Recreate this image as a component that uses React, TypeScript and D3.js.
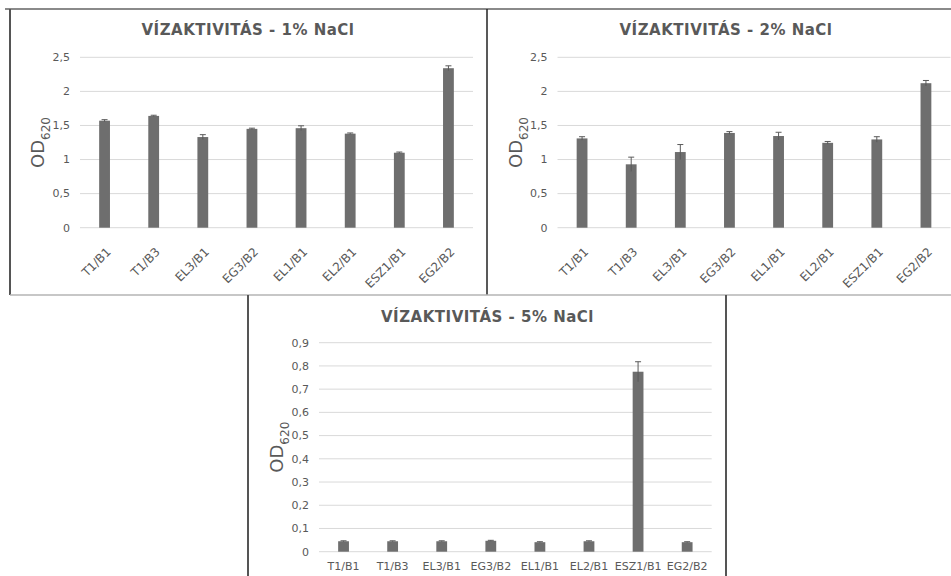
import * as d3 from 'd3';

// ─── Datos ───────────────────────────────────────────────────────────────────
const categories = ['T1/B1', 'T1/B3', 'EL3/B1', 'EG3/B2', 'EL1/B1', 'EL2/B1', 'ESZ1/B1', 'EG2/B2'];

const nacl1 = [1.57, 1.64, 1.33, 1.45, 1.46, 1.38, 1.10, 2.34];
const nacl1Err = [0.015, 0.01, 0.035, 0.01, 0.035, 0.01, 0.01, 0.035];

const nacl2 = [1.31, 0.93, 1.11, 1.39, 1.345, 1.245, 1.295, 2.12];
const nacl2Err = [0.025, 0.105, 0.11, 0.02, 0.055, 0.02, 0.04, 0.04];

const nacl5 = [0.045, 0.045, 0.045, 0.047, 0.041, 0.045, 0.775, 0.041];
const nacl5Err = [0.002, 0.002, 0.002, 0.002, 0.002, 0.002, 0.043, 0.002];

const ticks12 = [0, 0.5, 1, 1.5, 2, 2.5];
const ticks5 = [0, 0.1, 0.2, 0.3, 0.4, 0.5, 0.6, 0.7, 0.8, 0.9];

const titles = ['VÍZAKTIVITÁS - 1% NaCl', 'VÍZAKTIVITÁS - 2% NaCl', 'VÍZAKTIVITÁS - 5% NaCl'];

// ─── Estilos ─────────────────────────────────────────────────────────────────
const FONT = '"DejaVu Sans", sans-serif';
const TXT = '#595959';
const BAR = '#6e6e6e';
const GRID = '#d9d9d9';

const fmt = (v: number) => String(+v.toFixed(1)).replace('.', ',');

function Panel({ title, values, errors, ticks, left, right, top, bottom, titleX, titleY, rotate }: any) {
  const x = d3.scaleBand().domain(categories).range([left, right]).paddingInner(0.78).paddingOuter(0.39);
  const y = d3.scaleLinear().domain([0, ticks[ticks.length - 1]]).range([bottom, top]);
  const bw = x.bandwidth();
  const midY = (top + bottom) / 2;

  return (
    <g fontFamily={FONT}>
      <text x={titleX} y={titleY} textAnchor="middle" fontWeight="bold" fontSize={15}
        letterSpacing={0.5} fill={TXT}>{title}</text>

      {/* rejilla */}
      {ticks.map((t: number) => (
        <g key={t}>
          <line x1={left} x2={right} y1={y(t)} y2={y(t)} stroke={GRID} strokeWidth={1} />
          <text x={left - 10} y={y(t)} dy="0.35em" textAnchor="end" fontSize={11} fill={TXT}>{fmt(t)}</text>
        </g>
      ))}

      {/* eje Y */}
      <text transform={`translate(${left - 36},${midY}) rotate(-90)`} textAnchor="middle" fill={TXT} fontSize={18}>
        OD<tspan fontSize={12} dy={6}>620</tspan>
      </text>

      {/* barras */}
      {categories.map((c, i) => {
        const cx = x(c)! + bw / 2;
        const v = values[i], e = errors[i];
        return (
          <g key={c}>
            <rect x={x(c)} y={y(v)} width={bw} height={y(0) - y(v)} fill={BAR} />
            <line x1={cx} x2={cx} y1={y(v - e)} y2={y(v + e)} stroke="#5a5a5a" strokeWidth={1} />
            <line x1={cx - 3} x2={cx + 3} y1={y(v + e)} y2={y(v + e)} stroke="#5a5a5a" strokeWidth={1} />
            {rotate ? (
              <text transform={`translate(${cx + 7},${bottom + 25}) rotate(-45)`} textAnchor="end"
                fontSize={12} fill={TXT}>{c}</text>
            ) : (
              <text x={cx} y={bottom + 18} textAnchor="middle" fontSize={11} fill={TXT}>{c}</text>
            )}
          </g>
        );
      })}
    </g>
  );
}

export default function App() {
  return (
    <div style={{ position: 'absolute', left: 0, top: 0 }}>
      <svg width={951} height={576} style={{ display: 'block', background: '#fff' }}>
        {/* marcos */}
        <line x1={5} x2={951} y1={9} y2={9} stroke="#8a8a8a" strokeWidth={2} />
        <line x1={10} x2={10} y1={9} y2={295} stroke="#555" strokeWidth={2} />
        <line x1={487} x2={487} y1={9} y2={295} stroke="#222" strokeWidth={1.5} />
        <line x1={10} x2={951} y1={295} y2={295} stroke="#b5b5b5" strokeWidth={1.5} />
        <line x1={248} x2={248} y1={295} y2={576} stroke="#555" strokeWidth={2} />
        <line x1={726} x2={726} y1={295} y2={576} stroke="#555" strokeWidth={2} />

        <Panel title={titles[0]} values={nacl1} errors={nacl1Err} ticks={ticks12}
          left={80} right={473} top={57.3} bottom={227.7} titleX={248} titleY={35} rotate />
        <Panel title={titles[1]} values={nacl2} errors={nacl2Err} ticks={ticks12}
          left={557.5} right={950.5} top={57.3} bottom={227.7} titleX={726} titleY={35} rotate />
        <Panel title={titles[2]} values={nacl5} errors={nacl5Err} ticks={ticks5}
          left={319} right={711.7} top={342.7} bottom={551.7} titleX={487.5} titleY={322} />
      </svg>
    </div>
  );
}
